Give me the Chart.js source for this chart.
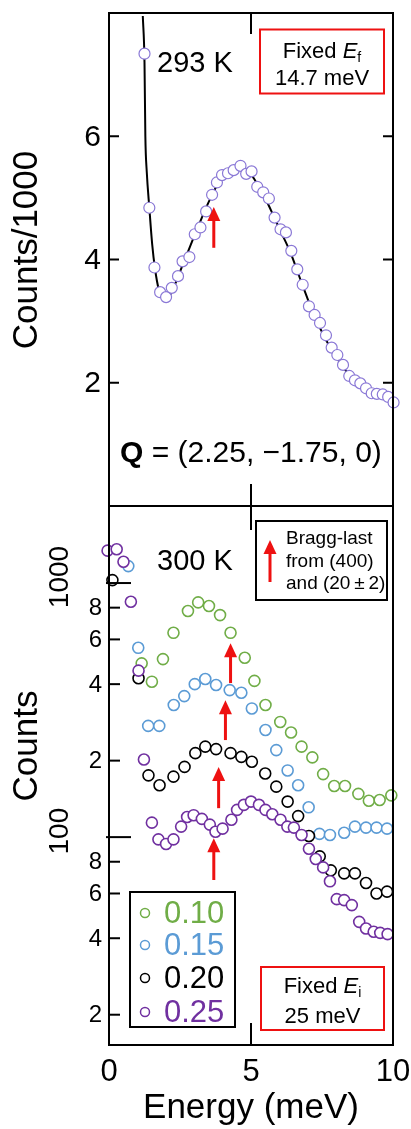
<!DOCTYPE html>
<html>
<head>
<meta charset="utf-8">
<script src="https://cdn.jsdelivr.net/npm/chart.js@4.4.1/dist/chart.umd.min.js"></script>
<style>
  html, body { margin: 0; padding: 0; background: #fff; }
  #wrap { position: relative; width: 411px; height: 1129px; overflow: hidden; }
  canvas { position: absolute; left: 0; }
  #topChart { top: 0; }
  #botChart { top: 490px; }
</style>
</head>
<body>
<div id="wrap">
  <canvas id="topChart" width="411" height="530"></canvas>
  <canvas id="botChart" width="411" height="639"></canvas>
</div>
<script>
// ---- top panel: 293 K, fixed Ef (counts / 1000) ----
var energy293 = [1.25, 1.42, 1.60, 1.80, 2.01, 2.21, 2.43, 2.59, 2.83, 3.02, 3.22, 3.42, 3.63, 3.80, 3.98,
                 4.19, 4.39, 4.63, 4.83, 5.02, 5.22, 5.43, 5.63, 5.83, 6.04, 6.23, 6.42, 6.63, 6.82, 7.04,
                 7.24, 7.43, 7.64, 7.84, 8.04, 8.24, 8.46, 8.66, 8.85, 9.05, 9.25, 9.43, 9.64, 9.83, 10.02];
var counts293 = [7.34, 4.84, 3.87, 3.47, 3.39, 3.54, 3.73, 3.97, 4.04, 4.41, 4.52, 4.78, 5.05, 5.25, 5.37,
                 5.40, 5.45, 5.52, 5.39, 5.43, 5.18, 5.09, 4.99, 4.68, 4.49, 4.44, 4.14, 3.84, 3.59, 3.24,
                 3.10, 2.97, 2.77, 2.57, 2.45, 2.29, 2.11, 2.04, 1.99, 1.91, 1.83, 1.82, 1.81, 1.77, 1.68];
var fitEnergy = [1.19, 1.25, 1.28, 1.33, 1.42, 1.52, 1.62, 1.75, 1.9, 2.05, 2.2, 2.4, 2.6, 2.8, 3.0, 3.2, 3.4, 3.6,
                 3.8, 4.0, 4.2, 4.4, 4.6, 4.8, 5.0, 5.2, 5.4, 5.6, 5.8, 6.0, 6.4, 6.8, 7.2, 7.6, 8.0, 8.4, 8.8,
                 9.2, 9.6, 10.0];
var fitCounts = [7.95, 7.2, 6.0, 5.42, 4.84, 4.25, 3.85, 3.52, 3.37, 3.36, 3.47, 3.68, 3.92, 4.15, 4.38, 4.6, 4.82,
                 5.02, 5.2, 5.33, 5.42, 5.47, 5.49, 5.46, 5.38, 5.24, 5.08, 4.9, 4.7, 4.5, 4.1, 3.6, 3.12, 2.73,
                 2.42, 2.16, 1.98, 1.85, 1.77, 1.7];
var topTicks = [2, 4, 6];

// ---- bottom panel: 300 K, fixed Ei (counts, log) ----
var seriesLabels = ['0.10', '0.15', '0.20', '0.25'];
var energy010 = [1.15, 1.51, 1.90, 2.27, 2.78, 3.14, 3.52, 3.91, 4.28, 4.78, 5.12, 5.51, 6.03, 6.41, 6.78, 7.16,
                 7.54, 7.93, 8.31, 8.78, 9.15, 9.53, 9.94];
var counts010 = [483, 409, 502, 637, 776, 839, 812, 748, 637, 508, 412, 331, 284, 258, 227, 206,
                 177, 159, 159, 148, 139, 140, 146];
var energy015 = [0.68, 1.03, 1.38, 1.77, 2.28, 2.65, 3.02, 3.39, 3.77, 4.25, 4.66, 5.03, 5.51, 5.89, 6.29, 6.66,
                 7.03, 7.41, 7.78, 8.28, 8.66, 9.05, 9.42, 9.79];
var counts015 = [1166, 556, 274, 274, 331, 359, 400, 419, 397, 379, 370, 321, 264, 220, 183, 160,
                 131, 103, 102, 104, 110, 109, 109, 108];
var energy020 = [0.12, 1.04, 1.39, 1.78, 2.27, 2.66, 3.04, 3.39, 3.77, 4.28, 4.66, 5.03, 5.50, 5.89, 6.29, 6.66,
                 7.04, 7.42, 7.81, 8.28, 8.66, 9.05, 9.42, 9.79];
var counts020 = [1027, 422, 175, 160, 173, 189, 214, 227, 222, 214, 207, 198, 178, 158, 138, 121,
                 101, 84, 74, 72, 72, 66, 60, 61];
var energy025 = [-0.05, 0.27, 0.51, 0.77, 1.04, 1.23, 1.51, 1.74, 2.01, 2.27, 2.54, 2.75, 2.98, 3.27, 3.55, 3.75,
                 4.00, 4.31, 4.51, 4.75, 5.00, 5.28, 5.51, 5.75, 6.04, 6.28, 6.51, 6.78, 7.04, 7.28, 7.54, 7.78,
                 8.02, 8.28, 8.55, 8.81, 9.05, 9.32, 9.55, 9.81];
var counts025 = [1341, 1358, 1213, 844, 452, 202, 114, 98, 94, 98, 110, 120, 122, 118, 112, 105,
                 108, 117, 128, 134, 138, 134, 128, 123, 117, 110, 109, 102, 90, 82, 76, 67,
                 57, 56.5, 54, 46.4, 43.7, 42.4, 42, 41.5];
var minorTicks = [20, 40, 60, 80, 200, 400, 600, 800];
var minorTickLabels = ['2', '4', '6', '8', '2', '4', '6', '8'];
var decadeTicks = [100, 1000];
var energyTicks = [0, 5, 10];

// Bragg-last arrows (energy, from, to)
var topArrowE = [3.69], topArrowFrom = [4.19], topArrowTo = [4.85];
var botArrowE = [4.28, 4.10, 3.86, 3.69];
var botArrowFrom = [404, 241, 130, 67.8];
var botArrowTo = [579, 346, 189, 98.9];

var FONT = '"Liberation Sans", Arial, sans-serif';
var RED = '#ee1111';
var BOT_OFFSET = 490; // top of the lower canvas in page pixels

function pts(xs, ys) {
    return xs.map(function(x, i) { return { x: x, y: ys[i] }; });
}

function drawArrow(ctx, x, yBase, yTip) {
    ctx.save();
    ctx.strokeStyle = RED;
    ctx.fillStyle = RED;
    ctx.lineWidth = 3;
    ctx.beginPath();
    ctx.moveTo(x, yBase);
    ctx.lineTo(x, yTip + 10);
    ctx.stroke();
    ctx.beginPath();
    ctx.moveTo(x, yTip);
    ctx.lineTo(x - 6.5, yTip + 14);
    ctx.lineTo(x + 6.5, yTip + 14);
    ctx.closePath();
    ctx.fill();
    ctx.restore();
}

// draws a line of mixed-font parts; align 'center' or 'left'
function drawParts(ctx, parts, x, y, align) {
    var total = 0;
    parts.forEach(function(p) { ctx.font = p.f; total += ctx.measureText(p.t).width; });
    var cx = align === 'center' ? x - total / 2 : x;
    ctx.textAlign = 'left';
    ctx.textBaseline = 'alphabetic';
    parts.forEach(function(p) {
        ctx.font = p.f;
        ctx.fillStyle = p.c || '#000';
        ctx.fillText(p.t, cx, y + (p.dy || 0));
        cx += ctx.measureText(p.t).width;
    });
}

function rotatedText(ctx, text, x, y, font) {
    ctx.save();
    ctx.translate(x, y);
    ctx.rotate(-Math.PI / 2);
    ctx.font = font;
    ctx.fillStyle = '#000';
    ctx.textAlign = 'center';
    ctx.textBaseline = 'middle';
    ctx.fillText(text, 0, 0);
    ctx.restore();
}

var topDecor = {
    id: 'topDecor',
    afterDatasetsDraw: function(chart) {
        var ctx = chart.ctx, a = chart.chartArea;
        var xs = chart.scales.x, ys = chart.scales.y;
        ctx.save();
        // frame
        ctx.strokeStyle = '#000';
        ctx.lineWidth = 2;
        ctx.strokeRect(a.left, a.top, a.right - a.left, a.bottom - a.top);
        // y ticks both sides, inside
        ctx.font = '30px ' + FONT;
        ctx.fillStyle = '#000';
        ctx.textAlign = 'right';
        ctx.textBaseline = 'middle';
        topTicks.forEach(function(v) {
            var py = ys.getPixelForValue(v);
            ctx.beginPath();
            ctx.moveTo(a.left, py); ctx.lineTo(a.left + 10, py);
            ctx.moveTo(a.right, py); ctx.lineTo(a.right - 10, py);
            ctx.stroke();
            ctx.fillText(String(v), a.left - 8, py + 1);
        });
        // x tick at 5, top and bottom
        var px5 = xs.getPixelForValue(5);
        ctx.beginPath();
        ctx.moveTo(px5, a.top); ctx.lineTo(px5, a.top + 21);
        ctx.moveTo(px5, a.bottom); ctx.lineTo(px5, a.bottom - 22);
        ctx.stroke();
        // y title
        rotatedText(ctx, 'Counts/1000', 27, 250, '35px ' + FONT);
        // temperature
        ctx.font = '29px ' + FONT;
        ctx.textAlign = 'left';
        ctx.fillText('293 K', 157, 64);
        // Fixed Ef box
        ctx.strokeStyle = RED;
        ctx.lineWidth = 2;
        ctx.strokeRect(260, 29.5, 124, 64);
        drawParts(ctx, [
            { t: 'Fixed ', f: '22px ' + FONT },
            { t: 'E', f: 'italic 22px ' + FONT },
            { t: 'f', f: '14px ' + FONT, dy: 4 }
        ], 322, 58, 'center');
        drawParts(ctx, [{ t: '14.7 meV', f: '22px ' + FONT }], 322, 85, 'center');
        // Q label
        drawParts(ctx, [
            { t: 'Q', f: 'bold 30px ' + FONT },
            { t: ' = (2.25, \u22121.75, 0)', f: '30px ' + FONT }
        ], 120, 462, 'left');
        // arrow
        topArrowE.forEach(function(e, i) {
            drawArrow(ctx, xs.getPixelForValue(e), ys.getPixelForValue(topArrowFrom[i]), ys.getPixelForValue(topArrowTo[i]));
        });
        ctx.restore();
    }
};

var botDecor = {
    id: 'botDecor',
    afterDatasetsDraw: function(chart) {
        var ctx = chart.ctx, a = chart.chartArea;
        var xs = chart.scales.x, ys = chart.scales.y;
        var o = BOT_OFFSET;
        ctx.save();
        ctx.strokeStyle = '#000';
        ctx.lineWidth = 2;
        ctx.strokeRect(a.left, a.top, a.right - a.left, a.bottom - a.top);
        // minor log ticks
        ctx.fillStyle = '#000';
        ctx.font = '24px ' + FONT;
        ctx.textAlign = 'right';
        ctx.textBaseline = 'middle';
        minorTicks.forEach(function(v, i) {
            var py = ys.getPixelForValue(v);
            ctx.beginPath();
            ctx.moveTo(a.left, py); ctx.lineTo(a.left + 11, py);
            ctx.stroke();
            ctx.fillText(minorTickLabels[i], a.left - 7, py + 1);
        });
        // decade ticks, long, rotated labels
        decadeTicks.forEach(function(v) {
            var py = ys.getPixelForValue(v);
            ctx.beginPath();
            ctx.moveTo(a.left - 3, py); ctx.lineTo(a.left + 22, py);
            ctx.stroke();
            rotatedText(ctx, String(v), 60, py - 6, '28px ' + FONT);
        });
        // x tick at 5
        var px5 = xs.getPixelForValue(5);
        ctx.beginPath();
        ctx.moveTo(px5, a.top); ctx.lineTo(px5, a.top + 24);
        ctx.moveTo(px5, a.bottom); ctx.lineTo(px5, a.bottom - 22);
        ctx.stroke();
        // x tick labels
        ctx.font = '31px ' + FONT;
        ctx.textAlign = 'center';
        ctx.textBaseline = 'middle';
        energyTicks.forEach(function(v) {
            ctx.fillText(String(v), xs.getPixelForValue(v), 1072 - o);
        });
        // titles
        ctx.font = '35px ' + FONT;
        ctx.fillText('Energy (meV)', (a.left + a.right) / 2, 1108 - o);
        rotatedText(ctx, 'Counts', 27, 746 - o, '35px ' + FONT);
        // temperature
        ctx.font = '29px ' + FONT;
        ctx.textAlign = 'left';
        ctx.fillText('300 K', 157, 562 - o);
        // Bragg-last box
        ctx.lineWidth = 2;
        ctx.strokeStyle = '#000';
        ctx.strokeRect(256, 521 - o, 131, 79);
        ctx.font = '19px ' + FONT;
        ctx.textBaseline = 'middle';
        ctx.fillText('Bragg-last', 286, 539 - o);
        ctx.fillText('from (400)', 286, 562 - o);
        ctx.fillText('and (20\u2009\u00b1\u20092)', 286, 584 - o);
        drawArrow(ctx, 270, 582 - o, 540 - o);
        // legend box
        ctx.strokeStyle = '#000';
        ctx.strokeRect(130, 892 - o, 105, 135);
        var colors = chart.data.datasets.map(function(d) { return d.borderColor; });
        var order = [3, 2, 1, 0];
        var rowsY = [913, 945, 978, 1012];
        seriesLabels.forEach(function(lbl, i) {
            var c = colors[order[i]];
            ctx.strokeStyle = c;
            ctx.lineWidth = 1.5;
            ctx.beginPath();
            ctx.arc(145, rowsY[i] - o, 4.5, 0, Math.PI * 2);
            ctx.stroke();
            ctx.fillStyle = c;
            ctx.font = '31px ' + FONT;
            ctx.textAlign = 'left';
            ctx.textBaseline = 'middle';
            ctx.fillText(lbl, 164, rowsY[i] - o + 1);
        });
        // Fixed Ei box
        ctx.strokeStyle = RED;
        ctx.lineWidth = 2;
        ctx.strokeRect(261, 967 - o, 123, 63);
        drawParts(ctx, [
            { t: 'Fixed ', f: '22px ' + FONT },
            { t: 'E', f: 'italic 22px ' + FONT },
            { t: 'i', f: '14px ' + FONT, dy: 4 }
        ], 322.5, 993 - o, 'center');
        drawParts(ctx, [{ t: '25 meV', f: '22px ' + FONT }], 322.5, 1023 - o, 'center');
        // arrows
        botArrowE.forEach(function(e, i) {
            drawArrow(ctx, xs.getPixelForValue(e), ys.getPixelForValue(botArrowFrom[i]), ys.getPixelForValue(botArrowTo[i]));
        });
        ctx.restore();
    }
};

function circleSet(xs, ys, color) {
    return {
        data: pts(xs, ys),
        borderColor: color,
        backgroundColor: '#fff',
        pointRadius: 5.5,
        pointHoverRadius: 5.5,
        pointBorderWidth: 1.6,
        clip: false
    };
}

var baseOptions = function(padding, yScale) {
    return {
        responsive: false,
        animation: false,
        events: [],
        layout: { padding: padding },
        plugins: { legend: { display: false }, tooltip: { enabled: false } },
        scales: {
            x: { type: 'linear', min: 0, max: 10, display: false },
            y: yScale
        }
    };
};

var topSet = circleSet(energy293, counts293, '#8a78d6');
topSet.pointBorderWidth = 1.2;
topSet.order = 0;

new Chart(document.getElementById('topChart'), {
    type: 'scatter',
    data: {
        datasets: [
            topSet,
            {
                type: 'line',
                data: pts(fitEnergy, fitCounts),
                borderColor: '#000',
                borderWidth: 2,
                pointRadius: 0,
                fill: false,
                cubicInterpolationMode: 'monotone',
                order: 1
            }
        ]
    },
    options: baseOptions({ left: 109, right: 18, top: 13, bottom: 24 },
        { type: 'linear', min: 0, max: 8, display: false }),
    plugins: [topDecor]
});

new Chart(document.getElementById('botChart'), {
    type: 'scatter',
    data: {
        datasets: [
            circleSet(energy025, counts025, '#7030a0'),
            circleSet(energy020, counts020, '#000000'),
            circleSet(energy015, counts015, '#5b9bd5'),
            circleSet(energy010, counts010, '#70ad47')
        ]
    },
    options: baseOptions({ left: 109, right: 18, top: 16, bottom: 84 },
        { type: 'logarithmic', min: 15.2, max: 2010, display: false }),
    plugins: [botDecor]
});
</script>
</body>
</html>
